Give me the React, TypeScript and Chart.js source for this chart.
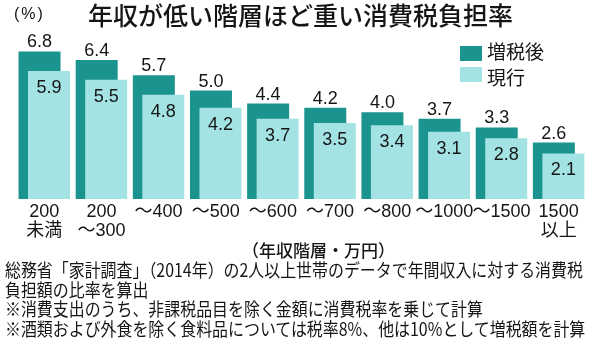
import React, { useEffect, useRef } from "react";
import { Chart, registerables } from "chart.js";

Chart.register(...registerables);

const categories: (string | string[])[] = [
  ["200", "未満"],
  ["200", "～300"],
  "～400",
  "～500",
  "～600",
  "～700",
  "～800",
  "～1000",
  "～1500",
  ["1500", "以上"],
];
const afterTax = [6.8, 6.4, 5.7, 5.0, 4.4, 4.2, 4.0, 3.7, 3.3, 2.6];
const current = [5.9, 5.5, 4.8, 4.2, 3.7, 3.5, 3.4, 3.1, 2.8, 2.1];
const seriesNames = ["増税後", "現行"];
const title = "年収が低い階層ほど重い消費税負担率";
const unitLabel = "(%)";
const axisTitle = "（年収階層・万円）";
const notes = [
  "総務省「家計調査」（2014年）の2人以上世帯のデータで年間収入に対する消費税",
  "負担額の比率を算出",
  "※消費支出のうち、非課税品目を除く金額に消費税率を乗じて計算",
  "※酒類および外食を除く食料品については税率8%、他は10%として増税額を計算",
];

const DARK = "#1b948f";
const LIGHT = "#a4e3e3";
const SANS = "'Liberation Sans', 'Noto Sans CJK JP', sans-serif";
const CJK = "'Noto Sans CJK JP', sans-serif";

const drawPlugin = {
  id: "orderedBars",
  beforeDatasetsDraw(chart: any) {
    const ctx = chart.ctx;
    // draw dataset 0 first, then 1 on top
    for (let i = 0; i < chart.data.datasets.length; i++) {
      const meta = chart.getDatasetMeta(i);
      if (meta.visible !== false) meta.controller.draw();
    }
    ctx.save();
    ctx.fillStyle = "#151515";
    ctx.font = `18px ${SANS}`;
    ctx.textAlign = "center";
    const m0 = chart.getDatasetMeta(0);
    m0.data.forEach((bar: any, i: number) => {
      ctx.textBaseline = "alphabetic";
      ctx.fillText(afterTax[i].toFixed(1), bar.x, bar.y - 4);
    });
    const m1 = chart.getDatasetMeta(1);
    m1.data.forEach((bar: any, i: number) => {
      ctx.textBaseline = "middle";
      ctx.fillText(current[i].toFixed(1), bar.x, bar.y + 17);
    });
    ctx.restore();
    return false;
  },
};

export default function App() {
  const ref = useRef<HTMLCanvasElement>(null);
  useEffect(() => {
    if (!ref.current) return;
    const chart = new Chart(ref.current, {
      type: "bar",
      data: {
        labels: categories,
        datasets: [
          {
            label: seriesNames[0],
            data: afterTax,
            backgroundColor: DARK,
            categoryPercentage: 0.3325,
            barPercentage: 4.42,
          },
          {
            label: seriesNames[1],
            data: current,
            backgroundColor: LIGHT,
            categoryPercentage: 0.3325,
            barPercentage: 4.42,
          },
        ],
      },
      options: {
        animation: false,
        responsive: false,
        maintainAspectRatio: false,
        layout: { padding: { top: 25.4, left: 15.7, right: 12.8, bottom: 0 } },
        plugins: { legend: { display: false }, tooltip: { enabled: false }, title: { display: false } },
        scales: {
          x: {
            grid: { display: false, drawTicks: false },
            border: { display: false },
            ticks: {
              autoSkip: false,
              maxRotation: 0,
              minRotation: 0,
              padding: 4,
              color: "#151515",
              font: { family: SANS, size: 18, lineHeight: 1.05 },
            },
            afterFit: (scale: any) => {
              scale.height = 159;
            },
          },
          y: { display: false, min: 0, max: 8 },
        },
      },
      plugins: [drawPlugin],
    });
    return () => chart.destroy();
  }, []);

  const abs = (s: React.CSSProperties): React.CSSProperties => ({ position: "absolute", whiteSpace: "nowrap", margin: 0, ...s });

  return (
    <div style={{ position: "absolute", left: 0, top: 0, width: 600, height: 358, background: "#fff", overflow: "hidden", color: "#151515" }}>
      <canvas ref={ref} width={600} height={358} style={{ position: "absolute", left: 0, top: 0, width: 600, height: 358 }} />
      <div style={abs({ left: 88, top: 2, fontFamily: CJK, fontSize: 25, lineHeight: "25px", fontWeight: 500 })}>{title}</div>
      <div style={abs({ left: 14, top: 6, fontFamily: SANS, fontSize: 16, lineHeight: "16px", letterSpacing: 2 })}>{unitLabel}</div>
      <div style={abs({ left: 460, top: 46, width: 22, height: 15, background: DARK })} />
      <div style={abs({ left: 460, top: 67, width: 22, height: 15, background: LIGHT })} />
      <div style={abs({ left: 487, top: 41, fontFamily: CJK, fontSize: 19, lineHeight: "19px" })}>{seriesNames[0]}</div>
      <div style={abs({ left: 487, top: 67, fontFamily: CJK, fontSize: 19, lineHeight: "19px" })}>{seriesNames[1]}</div>
      <div style={abs({ left: 242, top: 241, fontFamily: CJK, fontSize: 17, lineHeight: "17px", fontWeight: 500 })}>{axisTitle}</div>
      <div style={abs({ left: 5, top: 260, fontFamily: CJK, fontSize: 18, lineHeight: "19.6px", transform: "scaleX(0.885)", transformOrigin: "left top" })}>
        {notes.map((n, i) => (
          <div key={i}>{n}</div>
        ))}
      </div>
    </div>
  );
}
